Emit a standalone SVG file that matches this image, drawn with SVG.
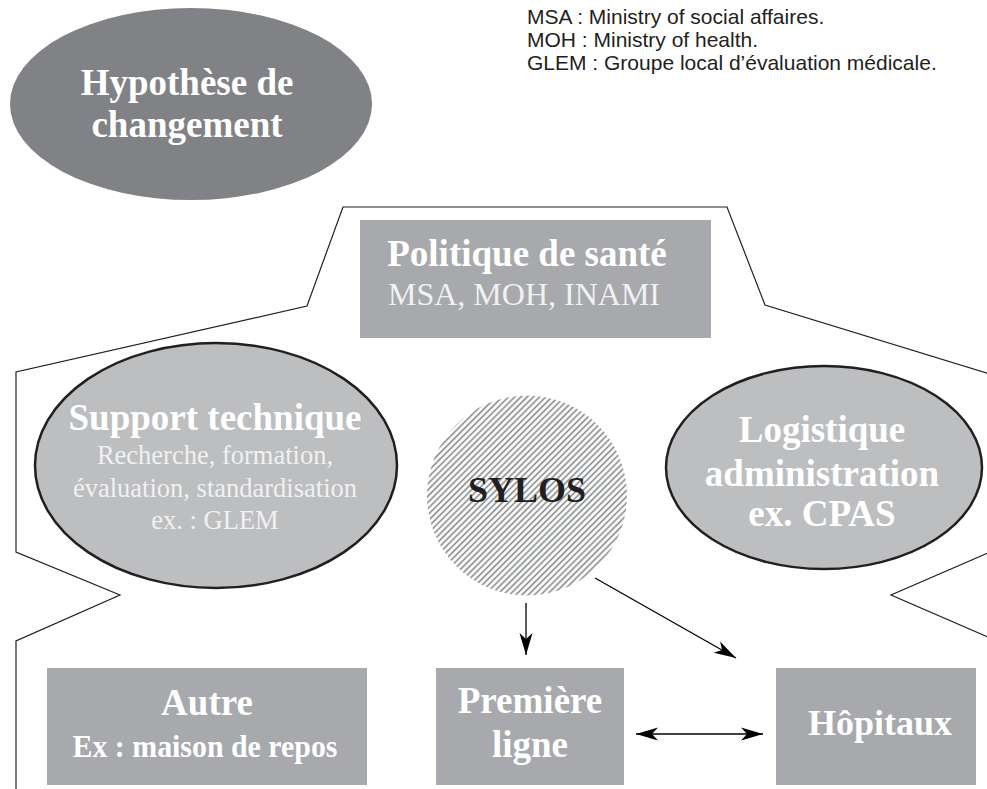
<svg xmlns="http://www.w3.org/2000/svg" width="987" height="789" viewBox="0 0 987 789">
<style>
.bold{font-family:"Liberation Serif","Times New Roman",serif;font-weight:bold;text-anchor:middle;fill:#ffffff}
.reg{font-family:"Liberation Serif","Times New Roman",serif;text-anchor:middle;fill:#f1f1f2}
.legend{font-family:"Liberation Sans",Arial,sans-serif;font-size:21px;fill:#231f20}
.box{fill:#a7a9ac}
.oval{fill:#bcbec0;stroke:#231f20;stroke-width:2.5}
.outline{fill:none;stroke:#231f20;stroke-width:1.2}
.conn{fill:none;stroke:#000;stroke-width:1.3}
</style>
<defs>
<pattern id="hatch" patternUnits="userSpaceOnUse" width="4.4" height="4.4" patternTransform="rotate(45)">
<line x1="2.2" y1="0" x2="2.2" y2="4.4" stroke="#7d7f82" stroke-width="1.5"/>
</pattern>
<marker id="ah" markerUnits="userSpaceOnUse" markerWidth="26" markerHeight="16" viewBox="-24 -8 26 16" refX="0" refY="0" orient="auto-start-reverse">
<path d="M0,0 L-22,-6.5 L-16,0 L-22,6.5 Z" fill="#000"/>
</marker>
</defs>
<g id="legend">
<text class="legend" x="527" y="24">MSA : Ministry of social affaires.</text>
<text class="legend" x="527" y="47">MOH : Ministry of health.</text>
<text class="legend" x="527" y="70">GLEM : Groupe local d’évaluation médicale.</text>
</g>
<g id="outline">
<path class="outline" d="M16,789 V641 L120,595 L16,552 V372 L307,306 L343,207 H727 L765,305 L990,374"/>
<path class="outline" d="M990,552 L891,595 L990,638"/>
</g>
<g id="hypothese">
<ellipse cx="191" cy="104" rx="181" ry="96" fill="#808285"/>
<text class="bold" x="187" y="95" font-size="37">Hypothèse de</text>
<text class="bold" x="187" y="137" font-size="37">changement</text>
</g>
<g id="politique">
<rect class="box" x="360" y="220" width="351" height="118"/>
<text class="bold" x="527" y="266" font-size="37">Politique de santé</text>
<text class="reg" x="524" y="305" font-size="32" fill="#fff">MSA, MOH, INAMI</text>
</g>
<g id="support">
<ellipse class="oval" cx="216" cy="465.5" rx="181" ry="122.5"/>
<text class="bold" x="215" y="430" font-size="37">Support technique</text>
<text class="reg" x="215" y="464" font-size="26.5">Recherche, formation,</text>
<text class="reg" x="215" y="497" font-size="26.5">évaluation, standardisation</text>
<text class="reg" x="215" y="529" font-size="26.5">ex. : GLEM</text>
</g>
<g id="sylos">
<circle cx="527" cy="495.5" r="100" fill="url(#hatch)"/>
<text x="527" y="502" font-size="36" font-family="Liberation Serif,'Times New Roman',serif" font-weight="bold" text-anchor="middle" fill="#231f20">SYLOS</text>
</g>
<g id="logistique">
<ellipse class="oval" cx="824" cy="467.5" rx="158" ry="101.5"/>
<text class="bold" x="822" y="442" font-size="37">Logistique</text>
<text class="bold" x="822" y="486" font-size="37">administration</text>
<text class="bold" x="822" y="526" font-size="37">ex. CPAS</text>
</g>
<g id="autre">
<rect class="box" x="47" y="668" width="320" height="117"/>
<text class="bold" x="207" y="715" font-size="37">Autre</text>
<text class="bold" x="205" y="757" font-size="32" textLength="265" lengthAdjust="spacingAndGlyphs">Ex : maison de repos</text>
</g>
<g id="premiere">
<rect class="box" x="436" y="668" width="188" height="117"/>
<text class="bold" x="530" y="713" font-size="37">Première</text>
<text class="bold" x="530" y="757" font-size="37">ligne</text>
</g>
<g id="hopitaux">
<rect class="box" x="776" y="668" width="200" height="117"/>
<text class="bold" x="880" y="735" font-size="36">Hôpitaux</text>
</g>
<g id="connectors">
<line class="conn" x1="526" y1="603" x2="526" y2="655" marker-end="url(#ah)"/>
<line class="conn" x1="595" y1="578" x2="736" y2="658" marker-end="url(#ah)"/>
<line class="conn" x1="636" y1="734" x2="763" y2="734" marker-start="url(#ah)" marker-end="url(#ah)"/>
</g>
</svg>
